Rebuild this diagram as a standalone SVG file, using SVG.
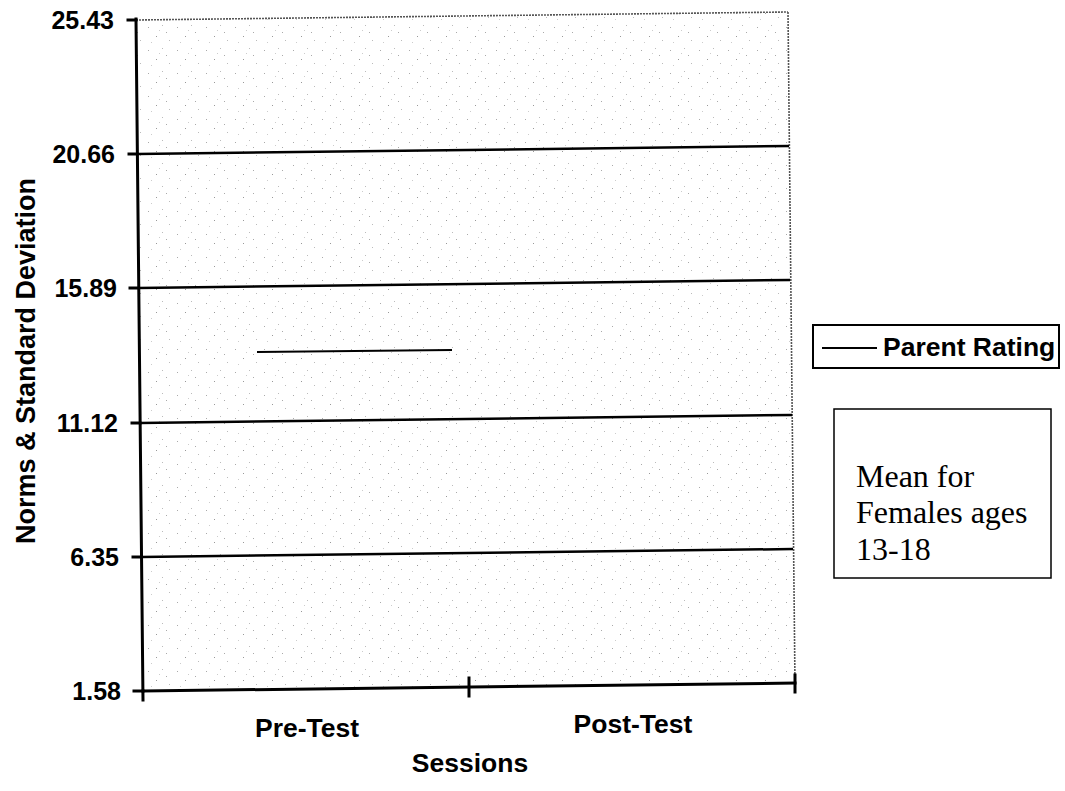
<svg xmlns="http://www.w3.org/2000/svg" width="1065" height="791" viewBox="0 0 1065 791">
<style>
.ax{stroke:#000;stroke-width:3;fill:none;stroke-linecap:square}
.grid{stroke:#000;stroke-width:2.5;fill:none}
.border{stroke:#555;stroke-width:1.6;fill:none;stroke-dasharray:2 1}
.lbl{font-family:"Liberation Sans",Arial,sans-serif;font-weight:bold;font-size:25px;fill:#000}
.xl{font-size:26.5px}
.ttl{font-size:27px}
.note{font-family:"Liberation Serif","Times New Roman",serif;font-size:32px;fill:#000}
</style>
<defs>
<pattern id="stipple" width="29" height="23" patternUnits="userSpaceOnUse">
<rect x="3" y="4" width="1" height="1" fill="#aaa"/>
<rect x="17" y="2" width="1" height="1" fill="#bbb"/>
<rect x="11" y="13" width="1" height="1" fill="#999"/>
<rect x="24" y="17" width="1" height="1" fill="#bbb"/>
<rect x="6" y="19" width="1" height="1" fill="#ccc"/>
<rect x="21" y="9" width="1" height="1" fill="#aaa"/>
<rect x="14" y="7" width="1" height="1" fill="#ccc"/>
</pattern>
</defs>
<g id="plot-area">
<polygon points="136,20 788,12 795,684 143,691" fill="url(#stipple)"/>
<line class="border" x1="136" y1="20" x2="788" y2="12"/>
<line class="border" x1="788" y1="12" x2="795" y2="684"/>
</g>
<g id="gridlines">
<line class="grid" x1="137" y1="154" x2="789" y2="146"/>
<line class="grid" x1="138" y1="288" x2="790" y2="280"/>
<line class="grid" x1="140" y1="423" x2="792" y2="415"/>
<line class="grid" x1="141" y1="557" x2="793" y2="549"/>
</g>
<g id="axes">
<line class="ax" x1="136" y1="19" x2="143" y2="700"/>
<line class="ax" x1="143" y1="691" x2="795" y2="683"/>
<line class="ax" x1="128" y1="20" x2="136" y2="20"/>
<line class="ax" x1="129" y1="154" x2="137" y2="154"/>
<line class="ax" x1="130" y1="288" x2="138" y2="288"/>
<line class="ax" x1="132" y1="423" x2="140" y2="423"/>
<line class="ax" x1="133" y1="557" x2="141" y2="557"/>
<line class="ax" x1="134" y1="691" x2="143" y2="691"/>
<line class="ax" x1="469" y1="678" x2="469" y2="696"/>
<line class="ax" x1="795" y1="675" x2="795" y2="692"/>
</g>
<g id="y-labels" class="lbl" text-anchor="end">
<text x="114" y="29">25.43</text>
<text x="115" y="163">20.66</text>
<text x="117" y="297">15.89</text>
<text x="118" y="432">11.12</text>
<text x="119" y="566">6.35</text>
<text x="121" y="700">1.58</text>
</g>
<g id="y-title">
<text class="lbl ttl" text-anchor="middle" transform="translate(35,361) rotate(-90)">Norms &amp; Standard Deviation</text>
</g>
<g id="x-labels" class="lbl xl" text-anchor="middle">
<text x="307" y="737">Pre-Test</text>
<text x="633" y="733">Post-Test</text>
<text x="470" y="772">Sessions</text>
</g>
<g id="connectors">
<line id="parent-rating-line" x1="257" y1="352" x2="452" y2="350" stroke="#000" stroke-width="2"/>
</g>
<g id="legend">
<rect x="813" y="325" width="246" height="43" fill="#fff" stroke="#000" stroke-width="2"/>
<line x1="822" y1="348" x2="877" y2="348" stroke="#000" stroke-width="2"/>
<text class="lbl" x="883" y="356" style="font-size:26.5px">Parent Rating</text>
</g>
<g id="note-box">
<rect x="834" y="409" width="217" height="169" fill="#fff" stroke="#000" stroke-width="1.5"/>
<text class="note" x="856" y="487">Mean for</text>
<text class="note" x="856" y="523">Females ages</text>
<text class="note" x="856" y="560">13-18</text>
</g>
</svg>
